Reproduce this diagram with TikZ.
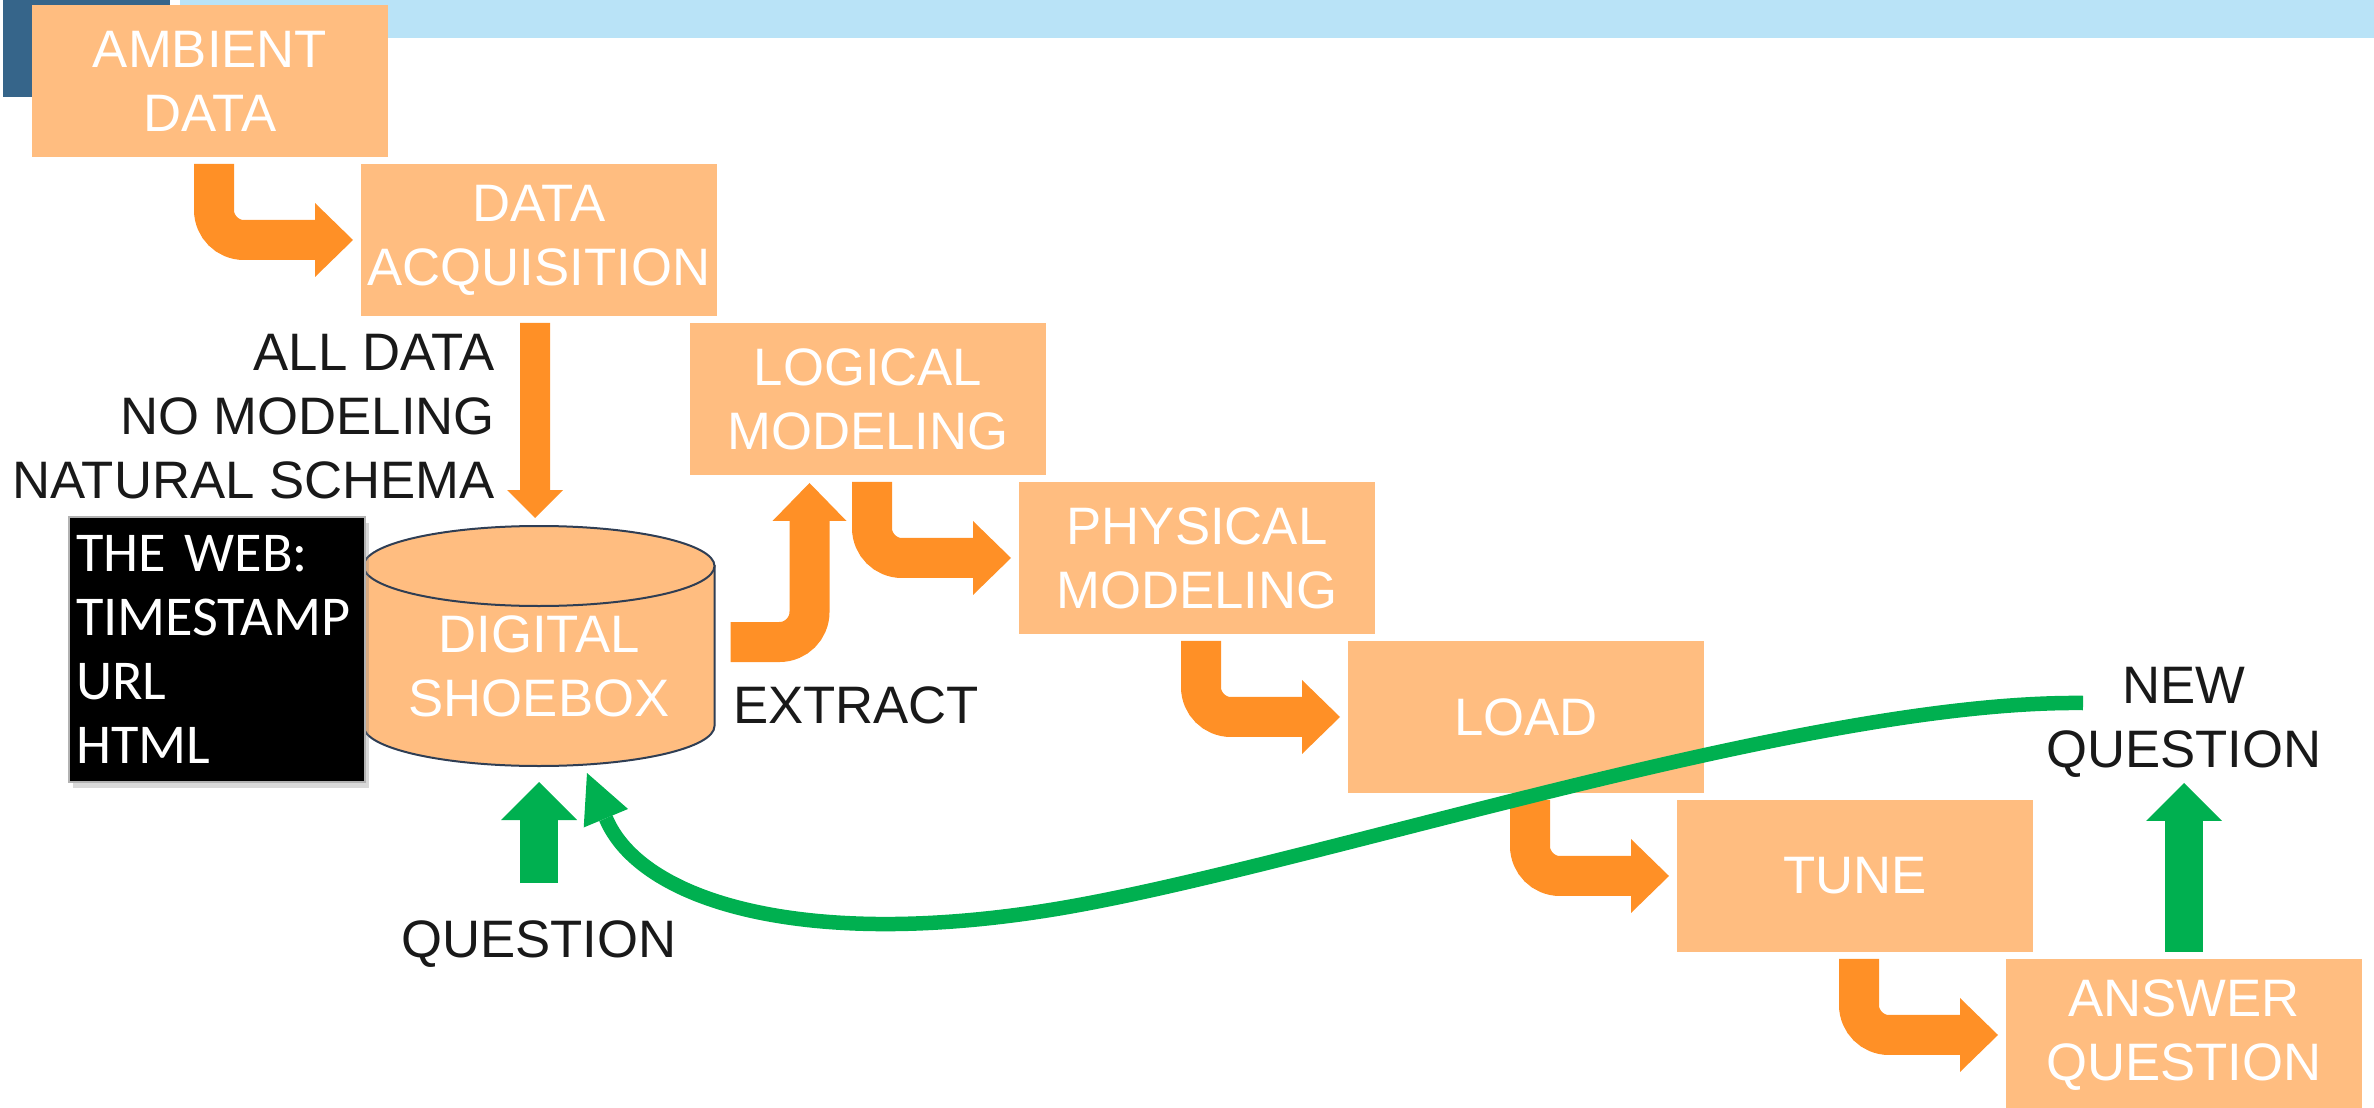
\documentclass[tikz,border=0pt]{standalone}
\usepackage{fontspec}
\setmainfont{Liberation Sans}
\newfontfamily\webfont{Carlito}
\usetikzlibrary{arrows.meta,positioning,backgrounds,shadows}
\definecolor{melon}{RGB}{255,189,128}
\definecolor{naranja}{RGB}{255,144,38}
\definecolor{verdeq}{RGB}{0,176,80}
\definecolor{celeste}{RGB}{185,227,247}
\definecolor{pizarra}{RGB}{54,101,138}
\definecolor{borde}{RGB}{47,62,84}
\definecolor{tinta}{RGB}{25,25,25}
\tikzset{
  etapa/.style={fill=melon, text=white, align=center, inner sep=0pt, outer sep=0pt, minimum width=35.6mm, minimum height=15.2mm, font=\fontsize{15}{18.2}\selectfont},
  txt/.style={text=tinta, inner sep=0pt, outer sep=0pt, font=\fontsize{15}{18.2}\selectfont},
  web/.style={fill=black, draw=gray!60, text=white, align=left, inner xsep=0.7mm, inner ysep=0pt, text width=28.2mm, minimum height=26.5mm, font=\webfont\fontsize{16}{18.2}\selectfont, drop shadow={opacity=0.3, shadow xshift=0.4mm, shadow yshift=-0.6mm}},
  cil/.style={fill=melon, draw=borde, line width=0.2mm},
  codo/.style={draw=naranja, line width=4mm, rounded corners=3mm, shorten >=0.8mm, -{Triangle[length=3.8mm, width=7.4mm, line width=0pt]}},
  baja/.style={draw=naranja, line width=3mm, -{Triangle[length=2.8mm, width=5.6mm, line width=0pt]}},
  sube/.style={draw=verdeq, line width=3.8mm, -{Triangle[length=3.8mm, width=7.6mm, line width=0pt]}},
  lazo/.style={draw=verdeq, line width=1.45mm, -{Triangle[length=4.9mm, width=4.8mm, line width=0pt]}},
}
\begin{document}
\begin{tikzpicture}[x=0.1mm, y=-0.1mm, node distance=0.7mm and -2.7mm]
  \useasboundingbox (0,0) rectangle (2374,1108);
  \fill[pizarra] (3,0) rectangle (170,97);
  \fill[celeste] (180,0) rectangle (2374,38);
  \node[etapa] (ambient) at (210,81) {AMBIENT\\DATA};
  \node[etapa, below right=of ambient] (acq) {DATA\\ACQUISITION};
  \node[etapa, below right=of acq] (logical) {LOGICAL\\MODELING};
  \node[etapa, below right=of logical] (physical) {PHYSICAL\\MODELING};
  \node[etapa, below right=of physical] (load) {LOAD};
  \node[etapa, below right=of load] (tune) {TUNE};
  \node[etapa, below right=of tune] (answer) {ANSWER\\QUESTION};
  \node[txt, text=white, align=center, minimum width=35.1mm, minimum height=20mm] (shoebox) at (539,666) {DIGITAL\\SHOEBOX};
  \begin{scope}[on background layer]
    \filldraw[cil] (shoebox.north west) -- ([yshift=4mm]shoebox.south west) arc (180:0:175.5 and 40) -- (shoebox.north east) -- cycle;
    \filldraw[cil] (shoebox.north) ellipse (175.5 and 40);
  \end{scope}
  \node[web] (web) at (217,649.5) {THE WEB:\\TIMESTAMP\\URL\\HTML};
  \node[txt, align=right, anchor=east] (conds) at (495,417) {ALL DATA\\NO MODELING\\NATURAL SCHEMA};
  \node[txt, anchor=base west] (extract) at (733,723) {EXTRACT};
  \node[txt, anchor=base] (question) at (539,957) {QUESTION};
  \node[txt, align=center, above=18.2mm of answer] (newq) {NEW\\QUESTION};
  \coordinate (lazoini) at (2083,703);

  \draw[codo] ([xshift=0.4mm,yshift=-0.7mm]ambient.south) |- (acq.west);
  \draw[codo] ([xshift=0.4mm,yshift=-0.7mm]logical.south) |- (physical.west);
  \draw[codo] ([xshift=0.4mm,yshift=-0.7mm]physical.south) |- (load.west);
  \draw[codo] ([xshift=0.4mm,yshift=-0.7mm]load.south) |- (tune.west);
  \draw[codo] ([xshift=0.4mm,yshift=-0.7mm]tune.south) |- (answer.west);
  \draw[codo] ([xshift=1.6mm,yshift=2.4mm]shoebox.east) -| ([xshift=-5.85mm]logical.south);
  \draw[baja] ([xshift=-0.4mm,yshift=-0.7mm]acq.south) -- ([xshift=-0.4mm,yshift=4.8mm]shoebox.north);
  \draw[sube] ([yshift=3.7mm]question.north) -- ([yshift=-1.6mm]shoebox.south);
  \draw[sube] ([yshift=0.7mm]answer.north) -- ([yshift=-0.6mm]newq.south);
  \draw[lazo] (lazoini) .. controls (1800,700) and (1300,870) .. (1050,910) .. controls (800,950) and (640,900) .. ([xshift=4.8mm,yshift=-0.7mm]shoebox.south);
\end{tikzpicture}
\end{document}
